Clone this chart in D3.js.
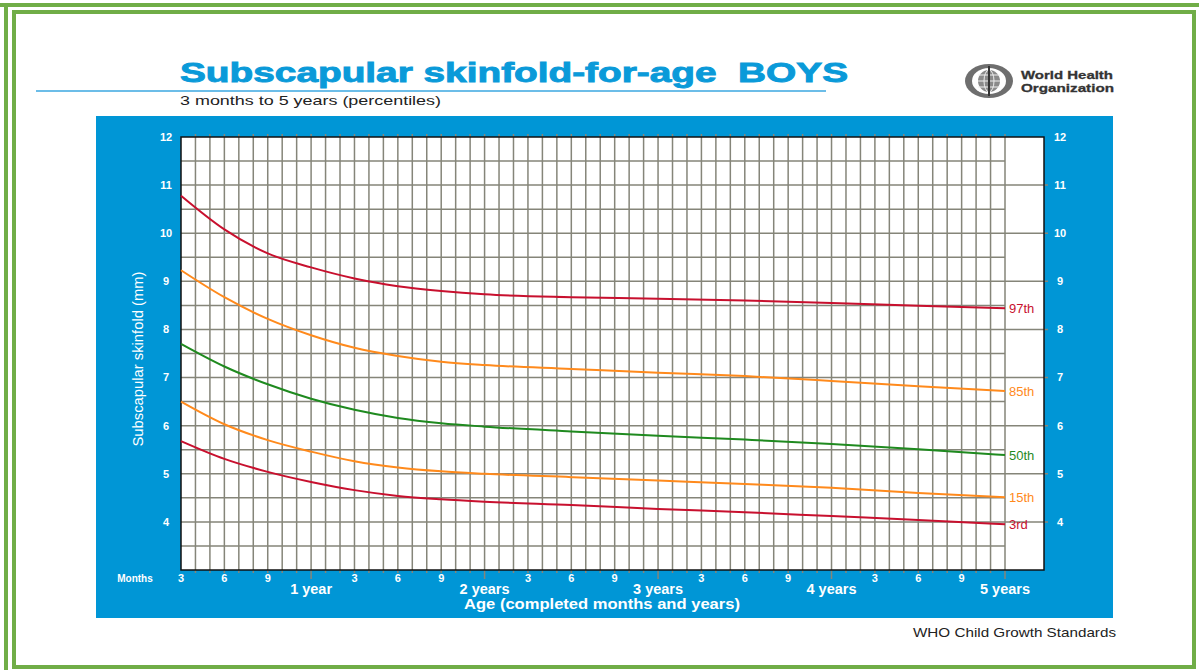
<!DOCTYPE html>
<html>
<head>
<meta charset="utf-8">
<script src="https://cdn.jsdelivr.net/npm/d3@7"></script>
<style>
  body { margin: 0; background: #fff; }
  svg text { font-family: "Liberation Sans", Arial, sans-serif; }
</style>
</head>
<body>
<div id="chart"></div>
<script>
const WIDTH = 1199;
const HEIGHT = 670;

// age in completed months
const months = [3, 6, 9, 12, 15, 18, 21, 24, 30, 36, 42, 48, 54, 60];

// subscapular skinfold (mm) per percentile
const p97 = [10.78, 10.08, 9.58, 9.29, 9.06, 8.90, 8.80, 8.73, 8.67, 8.64, 8.60, 8.55, 8.49, 8.44];
const p85 = [9.23, 8.67, 8.22, 7.88, 7.62, 7.45, 7.33, 7.26, 7.18, 7.10, 7.03, 6.93, 6.82, 6.72];
const p50 = [7.70, 7.23, 6.86, 6.56, 6.33, 6.16, 6.05, 5.98, 5.88, 5.79, 5.71, 5.62, 5.51, 5.39];
const p15 = [6.50, 6.03, 5.70, 5.46, 5.26, 5.13, 5.05, 5.00, 4.93, 4.86, 4.79, 4.71, 4.60, 4.51];
const p3 = [5.68, 5.31, 5.04, 4.83, 4.66, 4.54, 4.47, 4.42, 4.35, 4.27, 4.20, 4.12, 4.04, 3.95];

const percentileLabels = ["97th", "85th", "50th", "15th", "3rd"];
const percentileColors = ["#c8102e", "#ff8a1c", "#1f8a1f", "#ff8a1c", "#c8102e"];
const series = [p97, p85, p50, p15, p3];

const yTicks = [4, 5, 6, 7, 8, 9, 10, 11, 12];
const monthLabels = [3, 6, 9];
const yearLabels = ["1 year", "2 years", "3 years", "4 years", "5 years"];

const BLUE = "#0096d6";
const GREEN = "#70ad47";
const GRID = "#858579";

const svg = d3.select("#chart")
    .append("svg")
    .attr("width", WIDTH)
    .attr("height", HEIGHT);

/* FRAME */

svg.append("line").attr("x1", 0).attr("x2", WIDTH).attr("y1", 5).attr("y2", 5)
    .attr("stroke", GREEN).attr("stroke-width", 4);
svg.append("line").attr("x1", 6).attr("x2", 6).attr("y1", 3).attr("y2", HEIGHT)
    .attr("stroke", GREEN).attr("stroke-width", 4);
svg.append("rect")
    .attr("x", 14).attr("y", 12).attr("width", 1180).attr("height", 655)
    .attr("fill", "none").attr("stroke", GREEN).attr("stroke-width", 4);

/* HEADER */

svg.append("text")
    .attr("x", 180).attr("y", 82)
    .attr("textLength", 668).attr("lengthAdjust", "spacingAndGlyphs")
    .style("white-space", "pre")
    .attr("font-size", 27).attr("font-weight", "bold")
    .attr("fill", "#0a9ad9")
    .attr("stroke", "#0a9ad9").attr("stroke-width", 0.9)
    .text("Subscapular skinfold-for-age  BOYS");

svg.append("line").attr("x1", 36).attr("x2", 826).attr("y1", 91).attr("y2", 91)
    .attr("stroke", "#6cbde8").attr("stroke-width", 2);

svg.append("text")
    .attr("x", 180).attr("y", 105)
    .attr("textLength", 261).attr("lengthAdjust", "spacingAndGlyphs")
    .attr("font-size", 13).attr("fill", "#222")
    .text("3 months to 5 years (percentiles)");

// WHO emblem (simplified)
const logo = svg.append("g").attr("transform", "translate(989, 81)");
logo.append("ellipse").attr("rx", 24).attr("ry", 17).attr("fill", "#6e6e6e");
logo.append("ellipse").attr("rx", 17).attr("ry", 13).attr("fill", "#fff");
logo.append("circle").attr("r", 11).attr("fill", "#8a8a8a");
[-6, 0, 6].forEach(d => {
    logo.append("line").attr("x1", -11).attr("x2", 11).attr("y1", d).attr("y2", d)
        .attr("stroke", "#eee").attr("stroke-width", 1);
});
logo.append("ellipse").attr("rx", 5).attr("ry", 11).attr("fill", "none")
    .attr("stroke", "#eee").attr("stroke-width", 1);
logo.append("line").attr("x1", 0).attr("x2", 0).attr("y1", -15).attr("y2", 15)
    .attr("stroke", "#333").attr("stroke-width", 2);

svg.append("text").attr("x", 1021).attr("y", 78.5)
    .attr("textLength", 92).attr("lengthAdjust", "spacingAndGlyphs")
    .attr("font-size", 11.5).attr("font-weight", "bold").attr("fill", "#333")
    .attr("stroke", "#333").attr("stroke-width", 0.3)
    .text("World Health");
svg.append("text").attr("x", 1021).attr("y", 92)
    .attr("textLength", 93).attr("lengthAdjust", "spacingAndGlyphs")
    .attr("font-size", 11.5).attr("font-weight", "bold").attr("fill", "#333")
    .attr("stroke", "#333").attr("stroke-width", 0.3)
    .text("Organization");

/* PANEL */

svg.append("rect")
    .attr("x", 96).attr("y", 116).attr("width", 1017).attr("height", 502)
    .attr("fill", BLUE);

const x = d3.scaleLinear().domain([3, 60]).range([181, 1005]);
const y = d3.scaleLinear().domain([3, 12]).range([570, 137]);
const plotRight = 1044;

const plot = svg.append("g");

plot.append("rect")
    .attr("x", x(3)).attr("y", y(12))
    .attr("width", plotRight - x(3)).attr("height", y(3) - y(12))
    .attr("fill", "#fff");

// horizontal grid: half-mm lines up to 5 years, full-mm lines to the right edge
const hLines = d3.range(3.5, 12, 0.5);
plot.append("g").selectAll("line")
    .data(hLines)
    .join("line")
    .attr("x1", x(3))
    .attr("x2", d => Number.isInteger(d) ? plotRight + 4 : x(60))
    .attr("y1", d => y(d)).attr("y2", d => y(d))
    .attr("stroke", GRID).attr("stroke-width", 1.5);

// vertical grid: one line per month
const vLines = d3.range(4, 61);
plot.append("g").selectAll("line")
    .data(vLines)
    .join("line")
    .attr("x1", d => x(d)).attr("x2", d => x(d))
    .attr("y1", y(12) - 3)
    .attr("y2", d => d % 12 === 0 ? y(3) + 9 : y(3) + 3)
    .attr("stroke", GRID).attr("stroke-width", 1.5);

plot.append("rect")
    .attr("x", x(3)).attr("y", y(12))
    .attr("width", plotRight - x(3)).attr("height", y(3) - y(12))
    .attr("fill", "none").attr("stroke", "#111").attr("stroke-width", 1.5);

/* CURVES */

const line = d3.line()
    .x((d, i) => x(months[i]))
    .y(d => y(d))
    .curve(d3.curveMonotoneX);

series.forEach((s, idx) => {
    plot.append("path")
        .attr("d", line(s))
        .attr("fill", "none")
        .attr("stroke", percentileColors[idx])
        .attr("stroke-width", 2);

    plot.append("text")
        .attr("x", x(60) + 4)
        .attr("y", y(s[s.length - 1]))
        .attr("dy", "0.35em")
        .attr("font-size", 13)
        .attr("fill", percentileColors[idx])
        .text(percentileLabels[idx]);
});

/* AXES LABELS */

const axisText = svg.append("g").attr("fill", "#fff");

yTicks.forEach(v => {
    axisText.append("text")
        .attr("x", 166).attr("y", y(v)).attr("dy", "0.35em")
        .attr("text-anchor", "middle")
        .attr("font-size", 11).attr("font-weight", "bold")
        .text(v);
    axisText.append("text")
        .attr("x", 1060).attr("y", y(v)).attr("dy", "0.35em")
        .attr("text-anchor", "middle")
        .attr("font-size", 11).attr("font-weight", "bold")
        .text(v);
});

axisText.append("text")
    .attr("x", 135).attr("y", 578).attr("dy", "0.35em")
    .attr("text-anchor", "middle")
    .attr("font-size", 10).attr("font-weight", "bold")
    .text("Months");

d3.range(0, 5).forEach(yr => {
    monthLabels.forEach(m => {
        axisText.append("text")
            .attr("x", x(yr * 12 + m)).attr("y", 578).attr("dy", "0.35em")
            .attr("text-anchor", "middle")
            .attr("font-size", 11).attr("font-weight", "bold")
            .text(m);
    });
    axisText.append("text")
        .attr("x", x((yr + 1) * 12)).attr("y", 589).attr("dy", "0.35em")
        .attr("text-anchor", "middle")
        .attr("font-size", 14.5).attr("font-weight", "bold")
        .text(yearLabels[yr]);
});

axisText.append("text")
    .attr("x", 602).attr("y", 604).attr("dy", "0.35em")
    .attr("text-anchor", "middle")
    .attr("textLength", 276).attr("lengthAdjust", "spacingAndGlyphs")
    .attr("font-size", 15).attr("font-weight", "bold")
    .text("Age (completed months and years)");

axisText.append("text")
    .attr("transform", `translate(138, 359) rotate(-90)`)
    .attr("dy", "0.35em")
    .attr("text-anchor", "middle")
    .attr("textLength", 175).attr("lengthAdjust", "spacingAndGlyphs")
    .attr("font-size", 14)
    .text("Subscapular skinfold (mm)");

/* FOOTER */

svg.append("text")
    .attr("x", 913).attr("y", 632).attr("dy", "0.35em")
    .attr("textLength", 203).attr("lengthAdjust", "spacingAndGlyphs")
    .attr("font-size", 13.5).attr("fill", "#222")
    .text("WHO Child Growth Standards");
</script>
</body>
</html>
